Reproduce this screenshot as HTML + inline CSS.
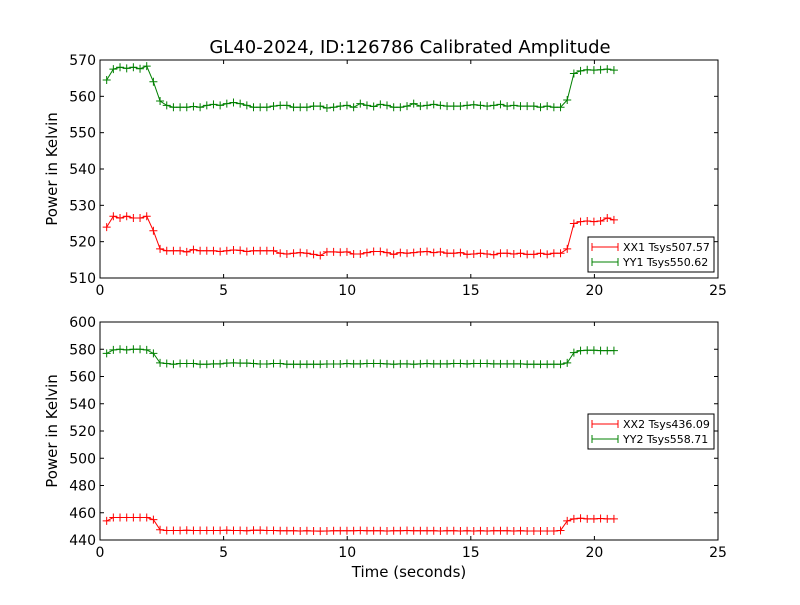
<!DOCTYPE html>
<html><head><meta charset="utf-8"><style>
body{margin:0;background:#fff;width:800px;height:600px;overflow:hidden}
svg text{font-family:"DejaVu Sans","Liberation Sans",sans-serif}
</style></head><body>
<svg id="chart" width="800" height="600" xmlns="http://www.w3.org/2000/svg">
<rect width="800" height="600" fill="#fff"/>
<text x="410" y="53" font-size="18" text-anchor="middle">GL40-2024, ID:126786 Calibrated Amplitude</text>
<g id="p1"></g>
<g id="p2"></g>
<text x="409" y="577" font-size="15" text-anchor="middle">Time (seconds)</text>
</svg>
<script>
const times=[0.27,0.54,0.81,1.08,1.35,1.62,1.89,2.16,2.43,2.70,2.97,3.24,3.51,3.78,4.05,4.32,4.59,4.86,5.13,5.40,5.67,5.94,6.21,6.48,6.75,7.02,7.29,7.56,7.83,8.10,8.37,8.64,8.91,9.18,9.45,9.72,9.99,10.26,10.53,10.80,11.07,11.34,11.61,11.88,12.15,12.42,12.69,12.96,13.23,13.50,13.77,14.04,14.31,14.58,14.85,15.12,15.39,15.66,15.93,16.20,16.47,16.74,17.01,17.28,17.55,17.82,18.09,18.36,18.63,18.90,19.17,19.44,19.71,19.98,20.25,20.52,20.79];
const xx1=[524,527,526.5,527,526.5,526.5,527,523,518,517.5,517.5,517.5,517.2,517.8,517.5,517.5,517.5,517.3,517.5,517.7,517.6,517.3,517.5,517.5,517.5,517.5,516.8,516.6,516.8,517,516.8,516.5,516.2,517.2,517.2,517.1,517.2,516.6,516.6,517,517.3,517.3,517,516.5,517,516.8,517,517.2,517.3,517,517.2,516.8,516.8,517,516.5,516.6,516.8,516.6,516.4,516.8,516.8,516.6,516.8,516.5,516.5,516.8,516.5,516.8,516.8,518,525,525.5,525.7,525.5,525.7,526.5,526];
const yy1=[564.5,567.5,568,567.7,568,567.6,568.3,564,558.7,557.5,557,557,557,557.2,557,557.5,557.8,557.5,558,558.3,558,557.5,557,557,557,557.3,557.5,557.5,557,557,557,557.3,557.3,556.8,557,557.3,557.5,557,558,557.5,557.2,557.8,557.5,557,557,557.3,558,557.3,557.5,557.8,557.5,557.3,557.3,557.3,557.5,557.7,557.5,557.3,557.5,557.8,557.3,557.5,557.3,557.3,557.3,557,557.3,557,557,559,566.3,567,567.3,567.2,567.3,567.5,567.2];
const xx2=[454,456.5,456.5,456.5,456.5,456.5,456.5,455,447.5,447,447,447,447.2,447,447,447,447,447,447.2,447,447,446.8,447.2,447.2,447,447,446.8,446.8,446.8,446.6,446.8,446.6,446.5,446.6,446.8,446.8,446.8,446.8,447,446.8,446.8,446.8,446.6,446.8,446.8,447,446.8,446.8,446.8,446.8,446.6,446.8,446.8,446.6,446.8,446.6,446.8,446.6,446.8,446.8,446.8,446.6,446.8,446.6,446.6,446.6,446.6,446.6,447,454,455.5,456,455.5,455.5,455.8,455.5,455.5];
const yy2=[577,579.5,580,579.5,580,580,579.5,577,570,569.5,569,569.5,569.5,569.5,569,569,569.3,569.3,569.8,570,569.8,569.8,569.5,569.2,569.2,569.5,569.5,569,569,569,569,569,569,569.2,569.2,569.2,569.5,569.3,569.3,569.5,569.5,569.5,569.3,569,569.3,569.3,569,569.3,569.5,569.3,569.3,569.3,569.5,569.5,569.3,569.5,569.5,569.5,569.3,569.3,569.3,569.3,569.3,569,569,569,569,569,569,570,577.5,579,579.3,579.3,579,579,579];
const xTicks=[0,5,10,15,20,25];
const y1Ticks=[510,520,530,540,550,560,570];
const y2Ticks=[440,460,480,500,520,540,560,580,600];
const legend1=["XX1 Tsys507.57","YY1 Tsys550.62"];
const legend2=["XX2 Tsys436.09","YY2 Tsys558.71"];
const NS="http://www.w3.org/2000/svg";
function mk(p,tag,a){const e=document.createElementNS(NS,tag);for(const k in a)e.setAttribute(k,a[k]);p.appendChild(e);return e;}
function panel(g,top,bot,ymin,ymax,yTicks,series,colors,names,leg,legY){
  const L=100,R=718;
  const sx=v=>L+(v-0)/(25-0)*(R-L);
  const sy=v=>bot-(v-ymin)/(ymax-ymin)*(bot-top);
  xTicks.forEach(t=>{
    const x=sx(t);
    const a=mk(g,'line',{x1:x,x2:x,y1:bot,y2:bot-4,stroke:'#000'});
    
    const b=mk(g,'line',{x1:x,x2:x,y1:top,y2:top+4,stroke:'#000'});
    
    const tx=mk(g,'text',{x:x,y:bot+17,'font-size':14,'text-anchor':'middle'});tx.textContent=t;
    
  });
  yTicks.forEach(t=>{
    const y=sy(t);
    const a=mk(g,'line',{x1:L,x2:L+4,y1:y,y2:y,stroke:'#000'});
    
    const b=mk(g,'line',{x1:R,x2:R-4,y1:y,y2:y,stroke:'#000'});
    
    const tx=mk(g,'text',{x:L-4,y:y+5,'font-size':14,'text-anchor':'end'});tx.textContent=t;
    
  });
  series.forEach((s,si)=>{
    const pts=s.map((v,i)=>sx(times[i])+','+sy(v)).join(' ');
    const pl=mk(g,'polyline',{points:pts,fill:'none',stroke:colors[si],'stroke-width':1});
    
    s.forEach((v,i)=>{
      const x=sx(times[i]),y=sy(v);
      const m=mk(g,'path',{d:`M${x-4},${y}H${x+4}M${x},${y-4}V${y+4}`,stroke:colors[si],'stroke-width':1});
      
    });
  });
  const fr=mk(g,'rect',{x:L,y:top,width:R-L,height:bot-top,fill:'none',stroke:'#000'});
  
  const yl=mk(g,'text',{x:0,y:0,'font-size':15,'text-anchor':'middle',transform:`translate(57,${(top+bot)/2}) rotate(-90)`});
  yl.textContent='Power in Kelvin';
  
  const lg=mk(g,'g',{});
  
  const lb=mk(lg,'rect',{x:588,y:legY,width:126,height:35,fill:'#fff',stroke:'#000'});
  
  leg.forEach((txt,i)=>{
    const y=legY+10+i*15;
    const e=mk(lg,'g',{});
    
    mk(e,'line',{x1:592,x2:618,y1:y,y2:y,stroke:colors[i]});
    mk(e,'path',{d:`M592,${y-4}V${y+4}M618,${y-4}V${y+4}`,stroke:colors[i]});
    const t=mk(e,'text',{x:623,y:y+4,'font-size':11});t.textContent=txt;
  });
}
panel(document.getElementById('p1'),60,278,510,570,y1Ticks,[xx1,yy1],['#ff0000','#008000'],['xx1','yy1'],legend1,237);
panel(document.getElementById('p2'),322,540,440,600,y2Ticks,[xx2,yy2],['#ff0000','#008000'],['xx2','yy2'],legend2,414);
</script>
</body></html>
